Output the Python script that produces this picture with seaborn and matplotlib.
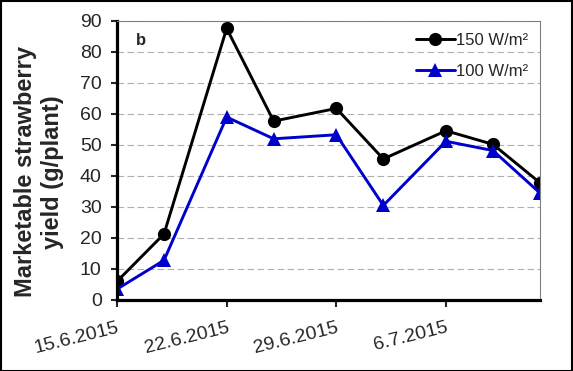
import matplotlib
matplotlib.use("Agg")
import matplotlib.pyplot as plt
import seaborn as sns
import pandas as pd
import numpy as np

dates = ["2015-06-15", "2015-06-18", "2015-06-22", "2015-06-25", "2015-06-29",
         "2015-07-02", "2015-07-06", "2015-07-09", "2015-07-12"]
yield_150 = [6.0, 21.3, 87.6, 57.7, 61.8, 45.5, 54.6, 50.2, 37.8]
yield_100 = [3.5, 12.8, 59.0, 52.0, 53.3, 30.5, 51.2, 48.2, 34.5]
series_labels = ["150 W/m²", "100 W/m²"]
tick_dates = ["2015-06-15", "2015-06-22", "2015-06-29", "2015-07-06"]
tick_labels = ["15.6.2015", "22.6.2015", "29.6.2015", "6.7.2015"]

sns.set_style("white")
plt.rcParams['font.family'] = ['Liberation Sans', 'DejaVu Sans']

df = pd.DataFrame({
    "date": pd.to_datetime(dates * 2),
    "yield": yield_150 + yield_100,
    "series": [series_labels[0]] * len(dates) + [series_labels[1]] * len(dates),
})

fig = plt.figure(figsize=(5.73, 3.71), dpi=100)
ax = fig.add_axes([0.2042, 0.1914, 0.9424 - 0.2042, 0.9434 - 0.1914])

sns.lineplot(data=df, x="date", y="yield", hue="series", style="series",
             palette={series_labels[0]: "black", series_labels[1]: "#0000CC"},
             markers={series_labels[0]: "o", series_labels[1]: "^"},
             dashes=False, markersize=9.5, linewidth=2.1, markeredgewidth=0,
             ax=ax, legend=True)

ax.set_ylim(0, 90)
ax.set_yticks(np.arange(0, 91, 10))
ax.set_xlim(pd.to_datetime(dates[0]), pd.to_datetime(dates[-1]))
ax.set_xticks(pd.to_datetime(tick_dates))
ax.set_xticklabels(tick_labels, rotation=14, ha="right", rotation_mode="anchor")
ax.grid(axis="y", color="#b0b0b0", linestyle=(0, (6, 3)), linewidth=0.8)
ax.set_axisbelow(True)

for s in ["left", "bottom"]:
    ax.spines[s].set_color("black")
    ax.spines[s].set_linewidth(2.3)
for s in ["top", "right"]:
    ax.spines[s].set_color("#808080")
    ax.spines[s].set_linewidth(0.8)

ax.tick_params(axis="y", direction="out", length=4, width=1.5, labelsize=14, pad=7, left=True)
ax.tick_params(axis="x", direction="out", length=5, width=1.5, labelsize=14, pad=9, bottom=True)

ax.set_xlabel("")
ax.set_ylabel("Marketable strawberry\nyield (g/plant)", fontsize=17, fontweight="bold",
              linespacing=1.25)
ax.yaxis.set_label_coords(-0.125, 0.459)
ax.text(0.045, 0.93, "b", transform=ax.transAxes, fontsize=12, fontweight="bold", va="center")

leg = ax.legend(loc="upper right", frameon=False, fontsize=12, handlelength=2.3,
                handletextpad=0.1, labelspacing=1.0, borderaxespad=0.3)

fig.patches.append(plt.Rectangle((0.001, 0.001), 0.997, 0.996, transform=fig.transFigure,
                                 fill=False, edgecolor="black", linewidth=1.5))
fig.savefig("out.png", dpi=100)
